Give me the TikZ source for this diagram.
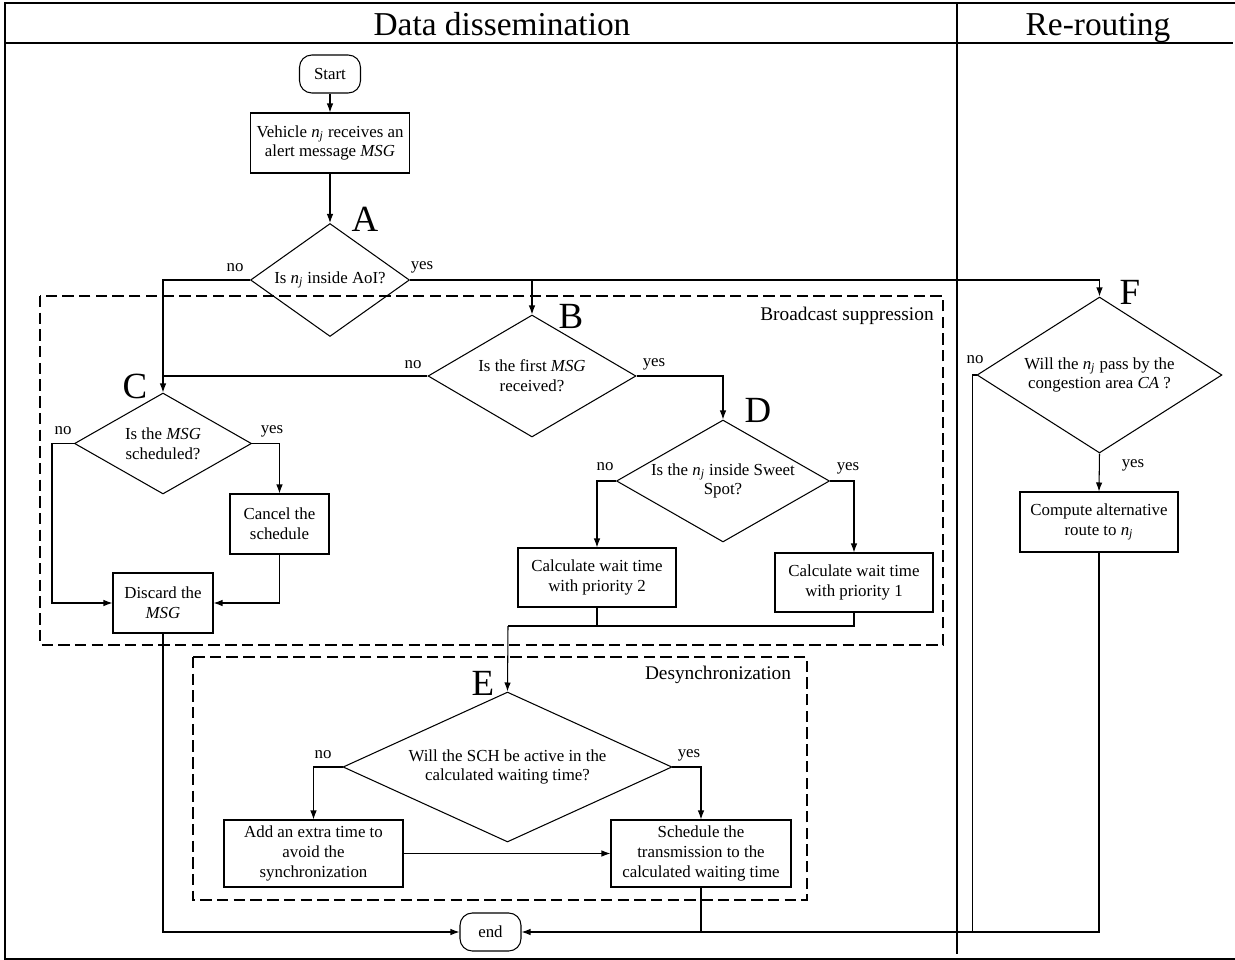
\documentclass[tikz,border=0pt]{standalone}
\usepackage{fontspec}
\setmainfont{Liberation Serif}
\usetikzlibrary{shapes.geometric,arrows.meta}
\newcommand{\nj}{\textit{n}\textsubscript{\textit{j}}}
\begin{document}
\begin{tikzpicture}[x=0.02cm,y=-0.02cm,
    font=\fontsize{9.6}{11.3}\selectfont,
    line width=0.6pt,
    >={Latex[length=1.8mm,width=1.3mm]},
    box/.style={draw,rectangle,align=center,inner sep=1pt},
    decision/.style={draw,diamond,align=center,inner sep=0pt},
    terminal/.style={draw,rectangle,rounded corners=7pt,minimum width=1.22cm,minimum height=0.76cm},
    letter/.style={font=\fontsize{21}{21}\selectfont},
    region/.style={dash pattern=on 6.5pt off 3pt},
    header/.style={font=\fontsize{19}{19}\selectfont, anchor=base}]
    \useasboundingbox (0,0) rectangle (1235,960);

    % frame and headers
    \draw [line width=0.9pt]
    (1235,3) -- (5,3) -- (5,959) -- (1235,959)
    (5,43) -- (1233,43)
    (957,3) -- (957,954);
    \node [header] (hdata) at (502,35) {Data dissemination};
    \node [header] (hroute) at (1098,35) {Re-routing};

    % dashed regions
    \draw [region] (40,296) rectangle (943,645);
    \draw [region] (193,657) rectangle (807,900);
    \node [font=\fontsize{11}{11}\selectfont] (lbroad) at (847,316) {Broadcast suppression};
    \node [font=\fontsize{11}{11}\selectfont] (ldesync) at (718,675) {Desynchronization};

    % nodes
    \node [terminal] (start) at (330,74) {Start};
    \node [box, minimum width=3.18cm, minimum height=1.2cm] (recv) at (330,143)
    {Vehicle \nj{} receives an\\alert message \textit{MSG}};
    \node [decision, shape aspect=1.41, minimum width=3.18cm, minimum height=2.26cm] (aoi) at (330,280)
    {Is \nj{} inside AoI?};
    \node [decision, shape aspect=1.7, minimum width=4.16cm, minimum height=2.44cm] (first) at (532,376)
    {Is the first \textit{MSG}\\received?};
    \node [decision, shape aspect=1.75, minimum width=3.54cm, minimum height=2.02cm] (sched) at (163,443.5)
    {Is the \textit{MSG}\\scheduled?};
    \node [decision, shape aspect=1.75, minimum width=4.26cm, minimum height=2.44cm] (sweet) at (723,481)
    {Is the \nj{} inside Sweet\\Spot?};
    \node [box, minimum width=1.98cm, minimum height=1.2cm] (cancel) at (279.5,524)
    {Cancel the\\schedule};
    \node [box, minimum width=2.0cm, minimum height=1.2cm] (discard) at (163,603)
    {Discard the\\\textit{MSG}};
    \node [box, minimum width=3.16cm, minimum height=1.18cm] (prio2) at (597,577.5)
    {Calculate wait time\\with priority 2};
    \node [box, minimum width=3.16cm, minimum height=1.18cm] (prio1) at (854,582.5)
    {Calculate wait time\\with priority 1};
    \node [decision, shape aspect=2.19, minimum width=6.58cm, minimum height=3.0cm] (sch) at (507.5,767)
    {Will the SCH be active in the\\calculated waiting time?};
    \node [box, minimum width=3.58cm, minimum height=1.34cm] (extra) at (313.5,853.5)
    {Add an extra time to\\avoid the\\synchronization};
    \node [box, minimum width=3.6cm, minimum height=1.34cm] (trans) at (701,853.5)
    {Schedule the\\transmission to the\\calculated waiting time};
    \node [terminal] (end) at (490.5,932) {end};
    \node [decision, shape aspect=1.57, minimum width=4.9cm, minimum height=3.12cm] (cong) at (1099.5,375)
    {Will the \nj{} pass by the\\congestion area \textit{CA} ?};
    \node [box, minimum width=3.16cm, minimum height=1.2cm] (route) at (1099,522)
    {Compute alternative\\route to \nj};

    % letters
    \node [letter] (la) at (365,219) {A};
    \node [letter] (lb) at (571,316) {B};
    \node [letter] (lc) at (135,386) {C};
    \node [letter] (ld) at (758,410) {D};
    \node [letter] (le) at (483,683) {E};
    \node [letter] (lf) at (1130,292) {F};

    % yes / no
    \node (noa) at (235,268) {no};
    \node (yesa) at (422,267) {yes};
    \node (nob) at (413,365) {no};
    \node (yesb) at (654,364) {yes};
    \node (noc) at (63,431) {no};
    \node (yesc) at (272,431) {yes};
    \node (nod) at (605,467) {no};
    \node (yesd) at (848,468) {yes};
    \node (noe) at (323,755) {no};
    \node (yese) at (689,755) {yes};
    \node (nof) at (975,360) {no};
    \node (yesf) at (1133,465) {yes};

    % connectors
    \coordinate (join) at (508,626);
    \coordinate (fback) at (973,932);
    \draw [->] (start) -- (recv);
    \draw [->] (recv) -- (aoi);
    \draw [->] (aoi.west) -| (sched.north);
    \draw [->] (aoi.east) -| (cong.north);
    \draw [->] (aoi.east -| first.north) -- (first.north);
    \draw (first.west) -- (first.west -| sched.north);
    \draw [->] (first.east) -| (sweet.north);
    \draw [->] (sched.west) -- ++(-22,0) |- (discard.west);
    \draw [->] (sched.east) -| (cancel.north);
    \draw [->] (cancel.south) |- (discard.east);
    \draw [->] (sweet.west) -| (prio2.north);
    \draw [->] (sweet.east) -| (prio1.north);
    \draw (prio2.south) |- (join);
    \draw (prio1.south) |- (join);
    \draw [->] (join) -- (sch.north);
    \draw [->] (sch.west) -| (extra.north);
    \draw [->] (sch.east) -| (trans.north);
    \draw [->] (extra) -- (trans);
    \draw [->] (discard.south) |- (end.west);
    \draw (trans.south) -- (trans.south |- end.east);
    \draw [->] (cong.south) -- (route.north);
    \draw [->] (cong.west) -- ++(-4,0) |- (end.east);
    \draw (route.south) |- (fback);

  \end{tikzpicture}
\end{document}
